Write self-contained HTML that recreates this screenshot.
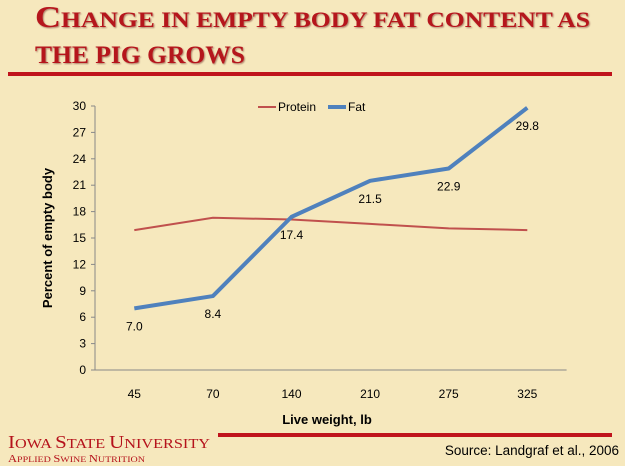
<!DOCTYPE html>
<html><head><meta charset="utf-8"><style>
body{margin:0;width:625px;height:466px;overflow:hidden;background:#f6e8bd;font-family:"Liberation Sans",sans-serif;}
svg text.t{font-family:"Liberation Serif",serif;font-weight:bold;fill:#b5121b;}
svg text.f{font-family:"Liberation Serif",serif;fill:#b5121b;}
</style></head><body>
<svg width="625" height="466" style="position:absolute;left:0;top:0">
<defs><filter id="sh"><feDropShadow dx="1" dy="1" stdDeviation="0.8" flood-color="#500" flood-opacity="0.45"/></filter></defs>
<text class="t" x="35" y="27" textLength="555" lengthAdjust="spacingAndGlyphs" filter="url(#sh)"><tspan font-size="31">C</tspan><tspan font-size="22">HANGE IN EMPTY BODY FAT CONTENT AS</tspan></text>
<text class="t" x="35" y="63" textLength="210" lengthAdjust="spacingAndGlyphs" font-size="25" filter="url(#sh)">THE PIG GROWS</text>
<rect x="8" y="72" width="604" height="4" fill="#c0141c"/>
<rect x="218" y="433" width="394" height="4" fill="#c0141c"/>
<text class="f" x="8" y="448" textLength="202" lengthAdjust="spacingAndGlyphs"><tspan font-size="18">I</tspan><tspan font-size="14">OWA </tspan><tspan font-size="18">S</tspan><tspan font-size="14">TATE </tspan><tspan font-size="18">U</tspan><tspan font-size="14">NIVERSITY</tspan></text>
<text class="f" x="8" y="462" textLength="137" lengthAdjust="spacingAndGlyphs"><tspan font-size="10">A</tspan><tspan font-size="8">PPLIED </tspan><tspan font-size="10">S</tspan><tspan font-size="8">WINE </tspan><tspan font-size="10">N</tspan><tspan font-size="8">UTRITION</tspan></text>
<text x="619" y="455" text-anchor="end" font-size="13.5">Source: Landgraf et al., 2006</text>
<g id="g"></g>
<text x="327" y="424" text-anchor="middle" font-size="13" font-weight="bold" fill="#000">Live weight, lb</text>
<text transform="translate(52,238) rotate(-90)" text-anchor="middle" font-size="13" font-weight="bold" fill="#000">Percent of empty body</text>
<line x1="258" y1="107" x2="276" y2="107" stroke="#c0504d" stroke-width="2"/>
<text x="278" y="111" font-size="12">Protein</text>
<line x1="328" y1="107" x2="346" y2="107" stroke="#4f81bd" stroke-width="4"/>
<text x="348" y="111" font-size="12">Fat</text>
</svg>
<script>
const categories=["45","70","140","210","275","325"];
const protein=[15.9,17.3,17.1,16.6,16.1,15.9];
const fat=[7.0,8.4,17.4,21.5,22.9,29.8];
const fatLabels=["7.0","8.4","17.4","21.5","22.9","29.8"];
const yTicks=[0,3,6,9,12,15,18,21,24,27,30];
const ns="http://www.w3.org/2000/svg",g=document.getElementById("g");
const x0=95,step=78.6,yb=370,yt=106;
const X=i=>x0+step*(i+0.5),Y=v=>yb-(v/30)*(yb-yt);
function mk(t,a){const e=document.createElementNS(ns,t);for(const k in a)e.setAttribute(k,a[k]);g.appendChild(e);return e;}
let ax=mk("line",{x1:x0,y1:yt,x2:x0,y2:yb,stroke:"#888"});


let bx=mk("line",{x1:x0,y1:yb,x2:x0+step*6,y2:yb,stroke:"#888"});


yTicks.forEach(v=>{mk("line",{x1:x0-4,y1:Y(v),x2:x0,y2:Y(v),stroke:"#888"});
const t=mk("text",{x:x0-9,y:Y(v)+4,"text-anchor":"end","font-size":12});t.textContent=v;

});
categories.forEach((c,i)=>{const t=mk("text",{x:X(i),y:398,"text-anchor":"middle","font-size":12});t.textContent=c;

});
const pl=mk("polyline",{points:protein.map((v,i)=>X(i)+","+Y(v)).join(" "),fill:"none",stroke:"#c0504d","stroke-width":2});


const fl=mk("polyline",{points:fat.map((v,i)=>X(i)+","+Y(v)).join(" "),fill:"none",stroke:"#4f81bd","stroke-width":4,"stroke-linejoin":"round"});


fat.forEach((v,i)=>{const t=mk("text",{x:X(i),y:Y(v)+22,"text-anchor":"middle","font-size":12});t.textContent=fatLabels[i];

});
</script>
</body></html>
